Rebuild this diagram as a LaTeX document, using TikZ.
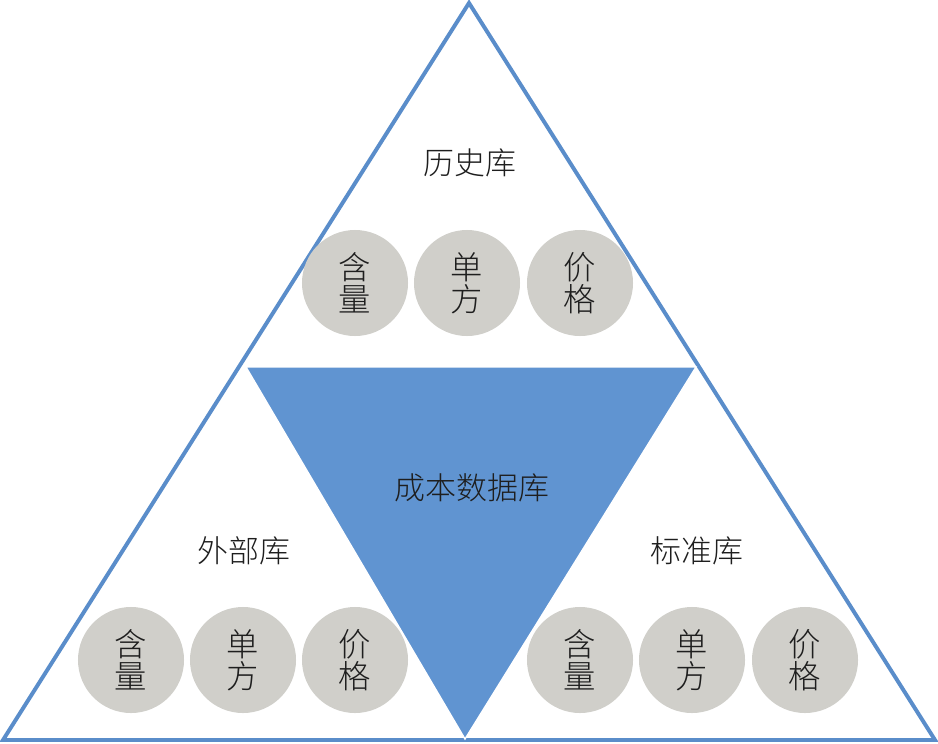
\documentclass[tikz,border=0pt]{standalone}
\usepackage{fontspec}
\setmainfont{Noto Sans CJK SC}[UprightFont=* Light]
\usepackage{tikz}
\usetikzlibrary{positioning}
\definecolor{bordbleu}{RGB}{90,141,202}
\definecolor{bleu}{RGB}{96,148,209}
\definecolor{gris}{RGB}{208,207,202}
\definecolor{encre}{RGB}{30,30,30}
\tikzset{
  rond/.style={circle,fill=gris,inner sep=0pt,minimum size=2.65cm,align=center,text=encre,
    font=\fontsize{23pt}{23pt}\selectfont},
  titre/.style={text=encre,font=\fontsize{22pt}{24pt}\selectfont},
}

\begin{document}
\begin{tikzpicture}[x=0.025cm,y=-0.025cm]%
\useasboundingbox (0,0) rectangle (938,743);%%
%%SOMMETS
\coordinate (haut) at (469,3);%%
\coordinate (gauche) at (3,740);%%
\coordinate (droite) at (935,740);%%
\coordinate (ig) at (246,367);%%
\coordinate (id) at (696,367);%%
\coordinate (ib) at (465,739);%%
%%GRAND TRIANGLE
\draw[bordbleu,line width=2.8pt,line join=miter] (haut)--(droite)--(gauche)--cycle;%%
%%RONDS
\node[rond] (h1) at (355,283) {含\\量}; %%
\node[rond] (h2) at (467,283) {单\\方}; %%
\node[rond] (h3) at (580,283) {价\\格}; %%
\node[rond] (w1) at (131,660) {含\\量}; %%
\node[rond] (w2) at (243,660) {单\\方}; %%
\node[rond] (w3) at (355,660) {价\\格}; %%
\node[rond] (b1) at (580,660) {含\\量}; %%
\node[rond] (b2) at (692,660) {单\\方}; %%
\node[rond] (b3) at (805,660) {价\\格}; %%
%%TRIANGLE CENTRAL
\filldraw[fill=bleu,draw=white,line width=1pt] (ig)--(id)--(ib)--cycle;%%
%%TEXTE
\node[titre] (hist) at (470,163) {历史库}; %%
\node[titre] (ext) at (244,551) {外部库}; %%
\node[titre] (std) at (697,551) {标准库}; %%
\node[titre] (cout) at (472,488) {成本数据库}; %%
\end{tikzpicture}
\end{document}
